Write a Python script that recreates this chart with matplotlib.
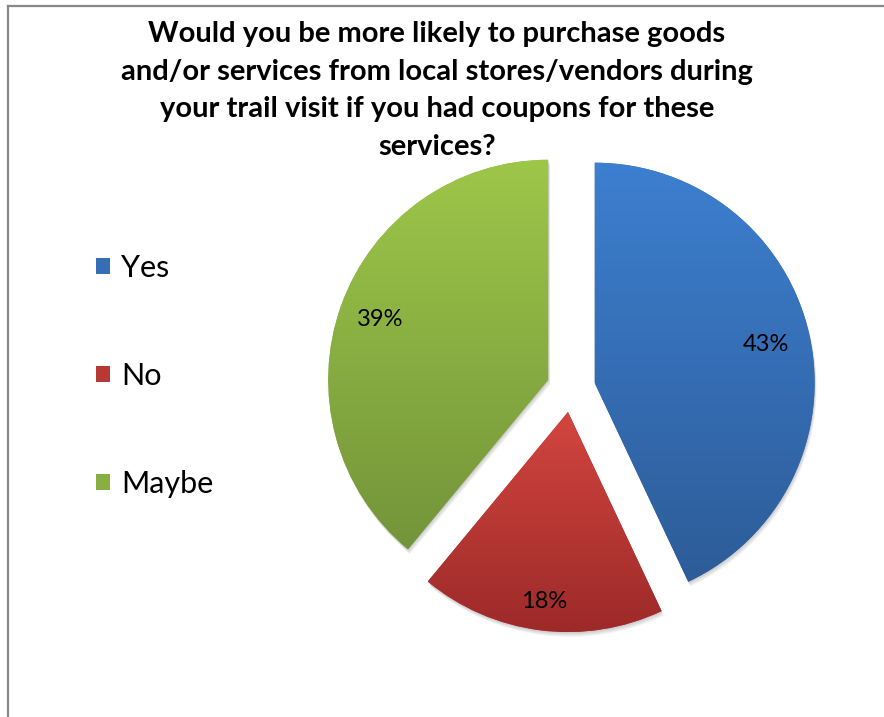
import matplotlib.pyplot as plt
import numpy as np
from matplotlib.colors import to_rgb
from matplotlib.lines import Line2D
from matplotlib.patches import PathPatch, Rectangle
from matplotlib.transforms import Affine2D

plt.rcParams['font.family'] = ['Lato', 'DejaVu Sans']

# Data
labels = ['Yes', 'No', 'Maybe']
shares = [43, 18, 39]
title = ('Would you be more likely to purchase goods\n'
         'and/or services from local stores/vendors during\n'
         'your trail visit if you had coupons for these\n'
         'services?')

# slice fill: light at the top, darker at the bottom
top_colors = ['#3D7FD0', '#D3453F', '#9DC749']
bottom_colors = ['#2D5C98', '#9C2A29', '#74943A']
label_dist = [0.80, 0.87, 0.81]

W, H = 884, 717
R = 220          # pie radius, px
half = 300       # half size of the square pie axes, px
cx, cy = 571, H - 388

fig = plt.figure(figsize=(W / 100, H / 100), dpi=100)
ax = fig.add_axes([(cx - half) / W, (cy - half) / H, 2 * half / W, 2 * half / H])

mid_colors = [tuple((np.array(to_rgb(a)) + np.array(to_rgb(b))) / 2)
              for a, b in zip(top_colors, bottom_colors)]

wedges, texts, autotexts = ax.pie(
    shares, explode=[0.11] * 3, startangle=90, counterclock=False,
    colors=mid_colors, autopct='%1.0f%%', pctdistance=0.8,
    wedgeprops=dict(linewidth=0), textprops=dict(fontsize=17, color='black'))

for w, top, bot, d, t in zip(wedges, top_colors, bottom_colors, label_dist, autotexts):
    path = w.get_path()
    # soft drop shadow
    for k in range(1, 5):
        sh = PathPatch(path.transformed(Affine2D().translate(0.5 * k / R, -1.2 * k / R)),
                       facecolor='black', alpha=0.05, linewidth=0, zorder=0.5)
        ax.add_patch(sh)
    w.set_zorder(1)
    # vertical gradient clipped to the slice
    ext = path.get_extents()
    grad = np.linspace(0, 1, 256)[:, None, None]
    img = (1 - grad) * np.array(to_rgb(top)) + grad * np.array(to_rgb(bot))
    im = ax.imshow(img, extent=(ext.x0, ext.x1, ext.y0, ext.y1), origin='upper',
                   aspect='auto', zorder=2, interpolation='bilinear')
    im.set_clip_path(w)
    # percentage label
    ang = np.deg2rad((w.theta1 + w.theta2) / 2)
    t.set_position((w.center[0] + d * np.cos(ang), w.center[1] + d * np.sin(ang)))
    t.set_zorder(5)

lim = half / R
ax.set_xlim(-lim, lim)
ax.set_ylim(-lim, lim)
ax.axis('off')

# Title
fig.text(437 / W, 1 - 21 / H, title, ha='center', va='top', fontsize=21,
         fontweight='bold', linespacing=1.55)

# Legend
handles = [Rectangle((0, 0), 1, 1, facecolor=c, linewidth=0) for c in mid_colors]
fig.legend(handles, labels, loc='center left', bbox_to_anchor=(96 / W, 1 - 376 / H),
           frameon=False, fontsize=22, handlelength=0.45, handleheight=0.45,
           handletextpad=0.38, labelspacing=2.62, borderpad=0, borderaxespad=0)

# Chart frame
fig.add_artist(Line2D([8 / W, 8 / W], [0, 1 - 5.5 / H], color='#888888', lw=1.6))
fig.add_artist(Line2D([8 / W, 1], [1 - 5.5 / H, 1 - 5.5 / H], color='#888888', lw=1.6))

fig.savefig('out.png', dpi=100)
